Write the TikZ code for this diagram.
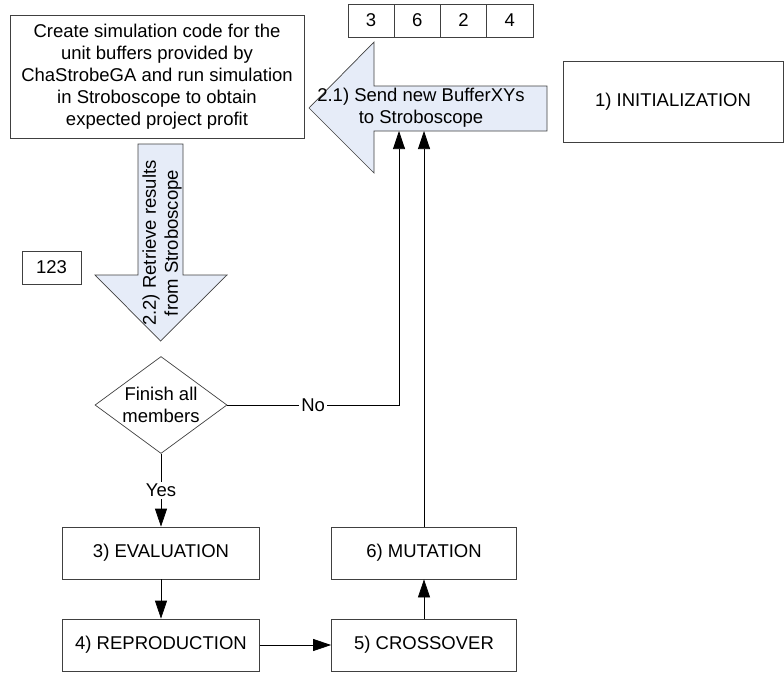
\documentclass[tikz,border=0pt]{standalone}
\usepackage{fontspec}
\setmainfont{Liberation Sans}
\usetikzlibrary{arrows.meta,shapes.geometric}
\definecolor{arrowfill}{RGB}{230,236,248}
\definecolor{edge}{RGB}{64,64,64}
\newcommand{\cellw}{46.25}
\newcommand{\stepnode}[5]{
	\node[box, minimum width=#4pt] (#1) at (#2,#3) {#5};
	}

\begin{document}
\begin{tikzpicture}[
      x=1pt, y=-1pt, %one unit is one pixel of the picture
      line width=0.7pt,
      every node/.style={font=\fontsize{18.5}{22}\selectfont},
      box/.style={draw=edge, minimum height=52pt, inner sep=0pt},
      cell/.style={draw=edge, minimum width=\cellw pt, minimum height=33pt, inner sep=0pt},
      decision/.style={draw=edge, shape=diamond, aspect=1.45, inner sep=0pt,
                       minimum width=132pt, minimum height=97pt, align=center},
      block/.style={draw=edge, fill=arrowfill, line join=miter},
      flow/.style={->, >={Triangle[length=18pt,width=12pt]}},
      lbl/.style={fill=white, inner sep=2pt}
    ]
    \useasboundingbox (0,0) rectangle (784,672);
    % Simulation box and the array of buffers
    \node[box, minimum width=294pt, minimum height=123pt, align=center] (create) at (157,76.5)
      {Create simulation code for the\\unit buffers provided by\\ChaStrobeGA and run simulation\\in Stroboscope to obtain\\expected project profit};
    \foreach \v [count=\i] in {3,6,2,4}
      \node[cell] (cell\i) at (348+\cellw*\i-\cellw/2,20.5) {\v};
    \node[box, minimum width=220pt, minimum height=81pt] (init) at (673,101.5) {1) INITIALIZATION};
    \node[draw=edge, minimum width=59pt, minimum height=33pt, inner sep=0pt] (num) at (51.5,267.5) {123};
    % Draw the block arrows
    \draw[block] (309,108) -- (374,42) -- (374,86) -- (547,86) -- (547,131)
      -- (374,131) -- (374,173) -- cycle;
    \node[align=center, inner sep=0pt] (send) at (421,108) {2.1) Send new BufferXYs\\to Stroboscope};
    \draw[block] (138,144) -- (183,144) -- (183,275) -- (227,275) -- (160.5,341)
      -- (95,275) -- (138,275) -- cycle;
    \node[align=center, inner sep=0pt, rotate=90] (retrieve) at (162,243) {2.2) Retrieve results\\from Stroboscope};
    \coordinate (nohit) at (399,131);
    % Decision and the GA steps
    \node[decision] (finish) at (161,405) {Finish all\\members};
    \stepnode{eval}{161}{553}{197}{3) EVALUATION}
    \stepnode{repro}{161}{645}{197}{4) REPRODUCTION}
    \stepnode{cross}{424}{645}{185}{5) CROSSOVER}
    \stepnode{mut}{424}{553}{185}{6) MUTATION}
    % Connectors
    \draw[flow] (finish.south) -- node[lbl] {Yes} (eval.north);
    \draw[flow] (finish.east) -- node[lbl] {No} (nohit |- finish.east) -- (nohit);
    \draw[flow] (eval.south) -- (repro.north);
    \draw[flow] (repro.east) -- (cross.west);
    \draw[flow] (cross.north) -- (mut.south);
    \draw[flow] (mut.north) -- (mut.north |- nohit);
\end{tikzpicture}
\end{document}
